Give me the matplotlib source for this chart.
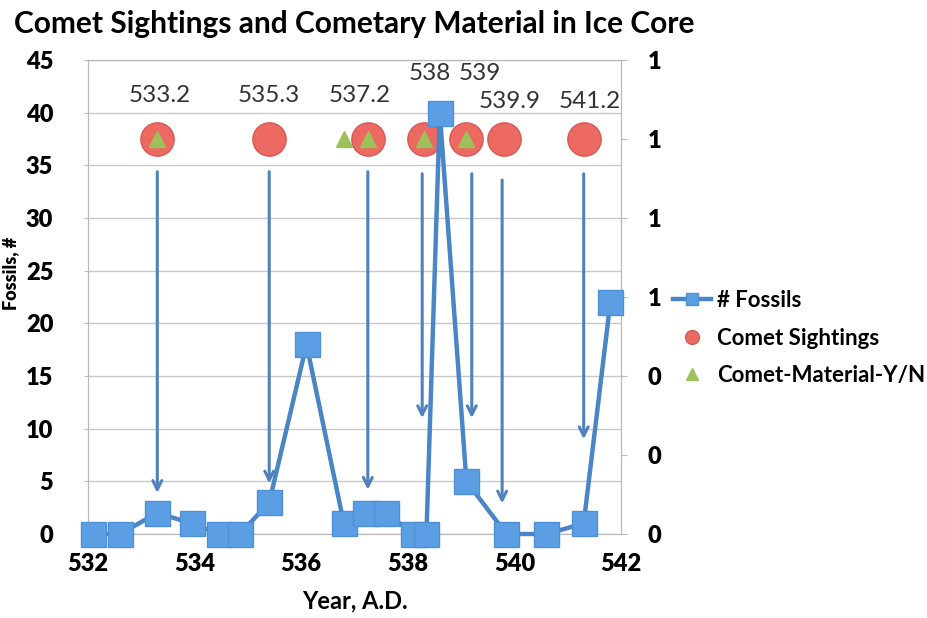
import numpy as np
import matplotlib.pyplot as plt

plt.rcParams['font.family'] = ['Lato', 'DejaVu Sans']

# Fossil counts found in the ice core (left axis)
fossil_years = [532.1, 532.6, 533.3, 533.95, 534.45, 534.85, 535.4, 536.1, 536.8, 537.2,
                537.6, 538.1, 538.35, 538.6, 539.1, 539.85, 540.6, 541.3, 541.8]
fossil_counts = [0, 0, 2, 1, 0, 0, 3, 18, 1, 2, 2, 0, 0, 40, 5, 0, 0, 1, 22]

# Comet sightings (right axis, yes = 1)
sighting_years = [533.3, 535.4, 537.25, 538.3, 539.1, 539.8, 541.3]
sighting_flag = [1, 1, 1, 1, 1, 1, 1]
sighting_labels = ['533.2', '535.3', '537.2', '538', '539', '539.9', '541.2']
label_years = [533.35, 535.4, 537.1, 538.42, 539.35, 539.92, 541.42]
label_heights = [41.6, 41.6, 41.6, 43.7, 43.7, 41.1, 41.1]

# Cometary material in the core (right axis, yes = 1)
material_years = [533.3, 536.8, 537.25, 538.3, 539.1]
material_flag = [1, 1, 1, 1, 1]

# arrows from each sighting down to the core layer
arrow_years = [533.3, 535.4, 537.25, 538.27, 539.2, 539.77, 541.3]
arrow_tops = [34.4, 34.4, 34.4, 34.2, 34.2, 33.6, 34.2]
arrow_tips = [3.9, 4.8, 4.2, 11.0, 11.0, 2.9, 9.0]

x_ticks = [532, 534, 536, 538, 540, 542]
y_ticks = [0, 5, 10, 15, 20, 25, 30, 35, 40, 45]
y2_ticks = [0, 0.2, 0.4, 0.6, 0.8, 1.0, 1.2]

fig = plt.figure(figsize=(9.27, 6.18), dpi=100)
ax = fig.add_axes([88/927, 1-534/618, (621-88)/927, (534-60)/618])
ax2 = ax.twinx()
ax.set_zorder(ax2.get_zorder() + 1)
ax.patch.set_visible(False)

grey = '#b8b8b8'
blue = '#4a85c6'

# sightings + material on the right axis
ax2.plot(sighting_years, sighting_flag, 'o', ms=24, color='#ec6a62', mec='#d65a55',
         mew=1, label='Comet Sightings', zorder=3)
ax2.plot(material_years, material_flag, '^', ms=11, color='#9cc15a', mec='#9cc15a',
         label='Comet-Material-Y/N', zorder=4)

# arrows
for x, top, tip in zip(arrow_years, arrow_tops, arrow_tips):
    ax.annotate('', xy=(x, tip), xytext=(x, top),
                arrowprops=dict(arrowstyle='->', color='#4f81bd', lw=2.2,
                                mutation_scale=16, shrinkA=0, shrinkB=0))

ax.plot(fossil_years, fossil_counts, '-s', color=blue, lw=3.2, ms=18,
        mfc='#5b9ee3', mec='#4f8fd6', mew=1, label='# Fossils', zorder=5, clip_on=False)

for txt, x, y in zip(sighting_labels, label_years, label_heights):
    ax.text(x, y, txt, ha='center', va='center', fontsize=17.5, color='#333333')

ax.grid(axis='y', color='#c8c8c8', lw=1)
for a in (ax, ax2):
    for s in a.spines.values():
        s.set_color(grey)
ax.tick_params(axis='y', length=3, color=grey, pad=22)
ax.tick_params(axis='x', length=0, pad=14)
ax2.tick_params(axis='y', length=4, color=grey, pad=15)

ax.set_xlim(532, 542)
ax.set_ylim(0, 45)
ax2.set_ylim(0, 1.2)
ax.set_xticks(x_ticks, [str(t) for t in x_ticks], fontweight='heavy', fontsize=17)
ax.set_yticks(y_ticks, [str(t) for t in y_ticks], fontweight='heavy', fontsize=17)
ax2.set_yticks(y2_ticks, ['%.0f' % t for t in y2_ticks], fontweight='heavy', fontsize=17)

ax.set_xlabel('Year, A.D.', fontsize=17, fontweight='bold', labelpad=10)
ax.set_ylabel('Fossils, #', fontsize=13, fontweight='heavy')
ax.yaxis.set_label_coords(-0.13, 0.55)

fig.text(14/927, 1-24/618, 'Comet Sightings and Cometary Material in Ice Core',
         fontsize=21.5, fontweight='bold', va='center', ha='left')

h1, l1 = ax.get_legend_handles_labels()
h2, l2 = ax2.get_legend_handles_labels()
leg = fig.legend(h1 + h2, l1 + l2, loc='center left', bbox_to_anchor=(673/927, 1-338/618),
                 frameon=False, handlelength=1.7, handletextpad=0.3,
                 labelspacing=0.75, borderpad=0, borderaxespad=0,
                 prop={'size': 16, 'weight': 'bold'})
for h, s in zip(leg.legend_handles, [9, 10, 8]):
    h.set_markersize(s)

plt.savefig('out.png', dpi=100)
